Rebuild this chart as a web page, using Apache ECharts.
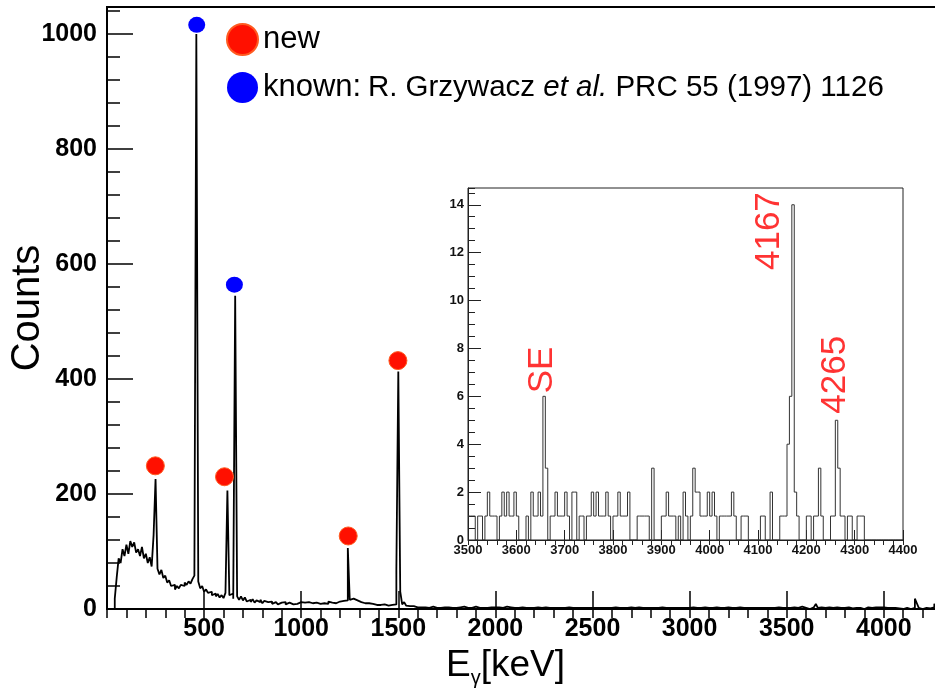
<!DOCTYPE html>
<html><head><meta charset="utf-8">
<script src="https://cdn.jsdelivr.net/npm/echarts@6/dist/echarts.min.js"></script>
<style>html,body{margin:0;padding:0;background:#fff}#c{width:935px;height:690px}</style>
</head><body><div id="c"></div>
<script>
// ---------- data ----------
const mainBinWidth = 10; // keV per bin, first bin starts at 0 keV
const mainCounts = [
0,0,0,0,18,55,88,80,104,92,
112,96,118,108,116,98,104,92,108,88,
96,80,90,74,129,226,70,60,68,54,
58,46,50,40,42,34,40,36,42,40,
46,42,48,44,52,58,1000,48,36,40,
30,34,28,30,24,27,22,26,20,24,
19,28,206,24,27,18,545,22,16,22,
15,20,13,16,12,17,11,15,12,16,
10,14,12,9,13,9,12,10,8,11,
10,12,8,11,10,8,11,9,10,12,
9,11,10,12,9,10,8,11,10,9,
11,10,12,9,13,11,12,10,11,13,
12,14,13,15,106,16,18,17,15,14,
12,11,10,9,10,8,9,8,7,8,
7,6,8,7,6,5,7,6,8,68,
413,30,8,12,6,5,4,5,4,3,
4,3,5,3,4,2,3,4,3,2,
3,2,4,3,2,3,5,2,3,2,
2,3,2,4,3,2,3,2,3,4,
3,2,3,2,4,2,3,3,2,3,
2,3,2,2,3,4,2,3,2,2,
3,2,2,3,2,2,3,2,4,2,
2,3,2,2,2,3,2,2,3,2,
2,2,3,2,4,2,2,3,2,2,
3,2,2,2,3,2,2,2,3,2,
2,2,3,2,2,2,3,2,2,2,
2,3,2,2,2,2,3,2,2,3,
2,2,2,3,2,2,2,2,3,2,
2,2,3,2,2,3,2,2,4,2,
2,2,2,2,3,2,2,2,2,2,
2,3,2,2,2,2,2,3,2,2,
2,2,2,3,2,2,2,2,2,3,
2,2,2,2,2,3,2,2,2,2,
2,2,3,2,2,2,2,2,3,2,
2,2,2,2,2,3,2,2,2,2,
2,2,1,3,2,2,4,4,3,2,
1,0,2,3,3,9,2,3,3,2,
3,3,1,2,3,3,3,2,3,2,
3,3,3,1,0,2,2,2,4,0,
2,3,2,2,3,3,5,3,3,3,
3,2,2,2,3,2,2,1,0,0,
1,2,2,0,1,2,18,10,2,0,
1,2,4,1,1,3,9,2
];
const insetBinStart = 3500, insetBinWidth = 5;
const insetCounts = [
1,1,1,0,1,1,0,1,2,1,
1,1,0,1,2,1,2,1,1,2,
1,0,0,0,1,0,2,1,1,2,
1,6,3,0,1,1,2,1,1,1,
2,1,0,2,2,0,1,1,0,1,
1,2,1,2,1,1,1,2,1,0,
1,1,2,1,1,1,2,0,0,0,
1,1,1,1,1,0,3,0,0,0,
1,1,2,1,1,1,0,1,0,2,
1,0,1,3,2,2,1,1,1,2,
1,2,1,0,1,1,1,1,1,2,
1,0,0,1,1,1,0,0,0,0,
0,1,1,0,0,2,0,0,0,1,
1,1,4,6,14,2,1,0,0,0,
1,1,0,1,1,3,1,0,0,0,
1,1,5,3,1,1,0,1,1,0,
0,1,1,1,0,0,0,0,0,0,
0,0,0,0,0,0,0,0,0,0
];
// annotation markers [keV, counts]
const newMarkers = [[249,249],[605,230],[1242,127],[1498,432]];
const knownMarkers = [[462,1016],[656,564]];
// inset peak labels [text, keV, counts]
const insetLabels = [['SE',3654,7.1],['4167',4124,12.9],['4265',4261,6.9]];
const legendNames = ['new','known'];

// ---------- build ----------
function histo(counts, start, width){
  const d = counts.map((c,i)=>[start + i*width, c]);
  d.push([start + counts.length*width, counts[counts.length-1]]);
  return d;
}
const FONT = "'Liberation Sans', Arial, Helvetica, sans-serif";
const chart = echarts.init(document.getElementById('c'), null, {renderer:'canvas'});
const black = '#000';
const plain = v => String(v);
chart.setOption({
  animation:false,
  backgroundColor:'#fff',
  textStyle:{fontFamily:FONT},
  grid:[
    {left:107, top:7, right:-3, bottom:81, show:true, borderColor:black, borderWidth:2, backgroundColor:'transparent',
     containLabel:false, outerBoundsMode:'none'},
    {left:468, top:188, width:435, height:352, show:true, borderColor:'#222', borderWidth:1, backgroundColor:'#fff',
     containLabel:false, outerBoundsMode:'none'}
  ],
  xAxis:[
    {gridIndex:0, type:'value', min:0, max:4279, interval:500,
     axisLine:{show:true, lineStyle:{color:black, width:2}},
     axisTick:{show:true, inside:true, length:18, lineStyle:{color:black, width:1.5}},
     splitLine:{show:false},
     axisLabel:{fontFamily:FONT, fontWeight:'bold', fontSize:25, color:black, margin:8, showMaxLabel:false,
       formatter:v=> v===0 ? '' : String(v)},
     name:'{e|E}{s|γ}{k|[keV]}', nameLocation:'middle', nameGap:30,
     nameTextStyle:{padding:[0,34,0,0], rich:{
       e:{fontFamily:FONT, fontSize:37, color:black},
       s:{fontFamily:FONT, fontSize:20, color:black, padding:[26,0,0,0]},
       k:{fontFamily:FONT, fontSize:37, color:black}}}
    },
    {gridIndex:0, type:'value', min:0, max:4279, interval:100,
     axisLine:{show:false}, axisLabel:{show:false}, splitLine:{show:false},
     axisTick:{show:true, inside:true, length:9, lineStyle:{color:black, width:1.5}}},
    {gridIndex:1, type:'value', min:3500, max:4400, interval:100,
     axisLine:{show:true, lineStyle:{color:'#222', width:1}},
     axisTick:{show:true, inside:true, length:10, lineStyle:{color:'#222', width:1}},
     splitLine:{show:false},
     axisLabel:{fontFamily:FONT, fontWeight:'bold', fontSize:13, color:'#111', margin:4, formatter:plain}},
    {gridIndex:1, type:'value', min:3500, max:4400, interval:20,
     axisLine:{show:false}, axisLabel:{show:false}, splitLine:{show:false},
     axisTick:{show:true, inside:true, length:5, lineStyle:{color:'#222', width:1}}}
  ],
  yAxis:[
    {gridIndex:0, type:'value', min:0, max:1047, interval:200,
     axisLine:{show:true, lineStyle:{color:black, width:2}},
     axisTick:{show:true, inside:true, length:26, lineStyle:{color:black, width:1.5}},
     splitLine:{show:false},
     axisLabel:{fontFamily:FONT, fontWeight:'bold', fontSize:25, color:black, margin:10, showMaxLabel:false, formatter:plain},
     name:'Counts', nameLocation:'middle', nameGap:59, nameRotate:90, nameMoveOverlap:false,
     nameTextStyle:{fontFamily:FONT, fontSize:40, color:black}
    },
    {gridIndex:0, type:'value', min:0, max:1047, interval:40, position:'left',
     axisLine:{show:false}, axisLabel:{show:false}, splitLine:{show:false},
     axisTick:{show:true, inside:true, length:13, lineStyle:{color:black, width:1.5}}},
    {gridIndex:1, type:'value', min:0, max:14.7, interval:2,
     axisLine:{show:true, lineStyle:{color:'#222', width:1}},
     axisTick:{show:true, inside:true, length:13, lineStyle:{color:'#222', width:1}},
     splitLine:{show:false},
     axisLabel:{fontFamily:FONT, fontWeight:'bold', fontSize:13, color:'#111', margin:4, showMaxLabel:false, formatter:plain}},
    {gridIndex:1, type:'value', min:0, max:14.7, interval:0.5, position:'left',
     axisLine:{show:false}, axisLabel:{show:false}, splitLine:{show:false},
     axisTick:{show:true, inside:true, length:7, lineStyle:{color:'#222', width:1}}}
  ],
  legend:{
    orient:'vertical', left:226, top:23, padding:0, itemWidth:31, itemHeight:33, itemGap:16,
    data:legendNames, selectedMode:false,
    formatter: n => n==='new' ? '{a|new}' : '{a|known:}  {b|R. Grzywacz }{c|et al.}{b| PRC 55 (1997) 1126}',
    textStyle:{color:black, rich:{
      a:{fontFamily:FONT, fontSize:31, color:black},
      b:{fontFamily:FONT, fontSize:29.5, color:black},
      c:{fontFamily:FONT, fontSize:29.5, color:black, fontStyle:'italic'}}}
  },
  series:[
    {type:'line', name:'spectrum', xAxisIndex:0, yAxisIndex:0, step:'end', showSymbol:false, symbol:'none',
     data:histo(mainCounts, 0, mainBinWidth), lineStyle:{color:black, width:1.8}, z:3, silent:true},
    {type:'line', name:'inset', xAxisIndex:2, yAxisIndex:2, step:'end', showSymbol:false, symbol:'none',
     data:histo(insetCounts, insetBinStart, insetBinWidth), lineStyle:{color:'#333', width:1}, z:3, silent:true},
    {type:'scatter', name:'new', xAxisIndex:0, yAxisIndex:0, data:newMarkers, symbol:'circle', symbolSize:18,
     itemStyle:{color:'#ff1000', borderColor:'#ff5a20', borderWidth:1, opacity:1}, z:5},
    {type:'scatter', name:'known', xAxisIndex:0, yAxisIndex:0, data:knownMarkers, symbol:'circle', symbolSize:[17,16],
     itemStyle:{color:'#0000ff', opacity:1}, z:5},
    {type:'scatter', name:'labels', xAxisIndex:2, yAxisIndex:2, symbolSize:0, silent:true,
     data:insetLabels.map(l=>({name:l[0], value:[l[1], l[2]]})),
     label:{show:true, position:'inside', rotate:90, formatter:p=>p.name,
       fontFamily:FONT, fontSize:35, color:'#ff0000'}, z:6}
  ]
});
</script></body></html>
